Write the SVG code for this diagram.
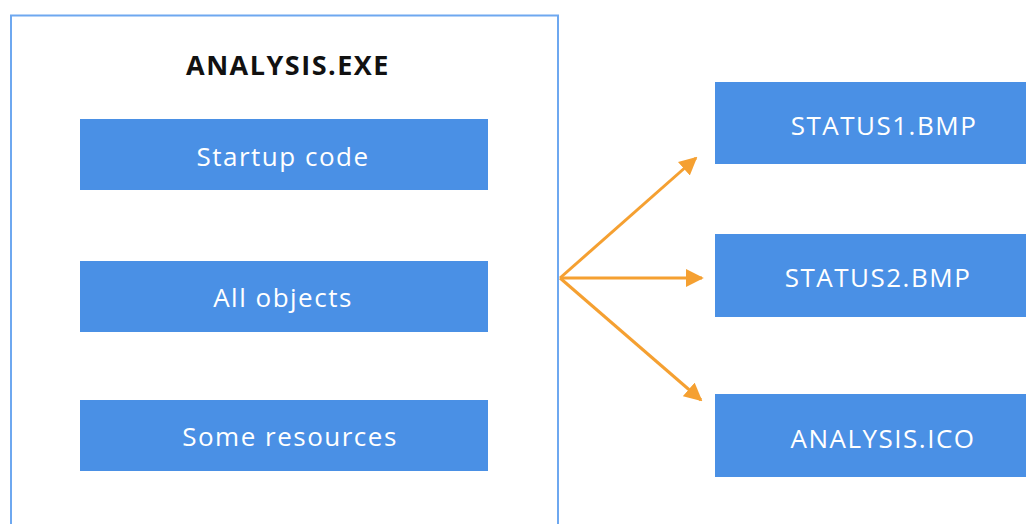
<svg xmlns="http://www.w3.org/2000/svg" width="1026" height="524" viewBox="0 0 1026 524">
<defs>
<style>
.blk{fill:#4a90e5;}
.lbl{font-family:"Open Sans","Noto Sans",sans-serif;font-size:26px;letter-spacing:1.5px;fill:#ffffff;text-anchor:middle;}
.ttl{font-family:"Open Sans","Noto Sans",sans-serif;font-size:27px;letter-spacing:1.5px;font-weight:bold;fill:#111111;text-anchor:middle;}
.con{stroke:#f5a031;stroke-width:3;fill:none;marker-end:url(#ah);}
</style>
<marker id="ah" viewBox="0 0 10 10" refX="9" refY="5" markerWidth="6" markerHeight="6" markerUnits="strokeWidth" orient="auto">
<path d="M0,0 L10,5 L0,10 z" fill="#f5a031"/>
</marker>
</defs>
<rect width="1026" height="524" fill="#ffffff"/>
<g id="analysis-exe">
<rect x="11" y="15.5" width="547" height="530" fill="none" stroke="#6ea8f0" stroke-width="2"/>
<text class="ttl" x="288" y="75">ANALYSIS.EXE</text>
</g>
<g id="startup">
<rect class="blk" x="80" y="119" width="408" height="71"/>
<text class="lbl" x="283" y="166">Startup code</text>
</g>
<g id="objects">
<rect class="blk" x="80" y="261" width="408" height="71"/>
<text class="lbl" x="283" y="307">All objects</text>
</g>
<g id="resources">
<rect class="blk" x="80" y="400" width="408" height="71"/>
<text class="lbl" x="290" y="446">Some resources</text>
</g>
<g id="status1">
<rect class="blk" x="715" y="82" width="320" height="82"/>
<text class="lbl" x="884" y="135">STATUS1.BMP</text>
</g>
<g id="status2">
<rect class="blk" x="715" y="234" width="320" height="83"/>
<text class="lbl" x="878" y="287">STATUS2.BMP</text>
</g>
<g id="analysis-ico">
<rect class="blk" x="715" y="394" width="320" height="83"/>
<text class="lbl" x="883" y="448">ANALYSIS.ICO</text>
</g>
<g id="connectors">
<line class="con" x1="560" y1="278" x2="696" y2="158"/>
<line class="con" x1="560" y1="278" x2="702" y2="278"/>
<line class="con" x1="560" y1="278" x2="701" y2="400"/>
</g>
</svg>
